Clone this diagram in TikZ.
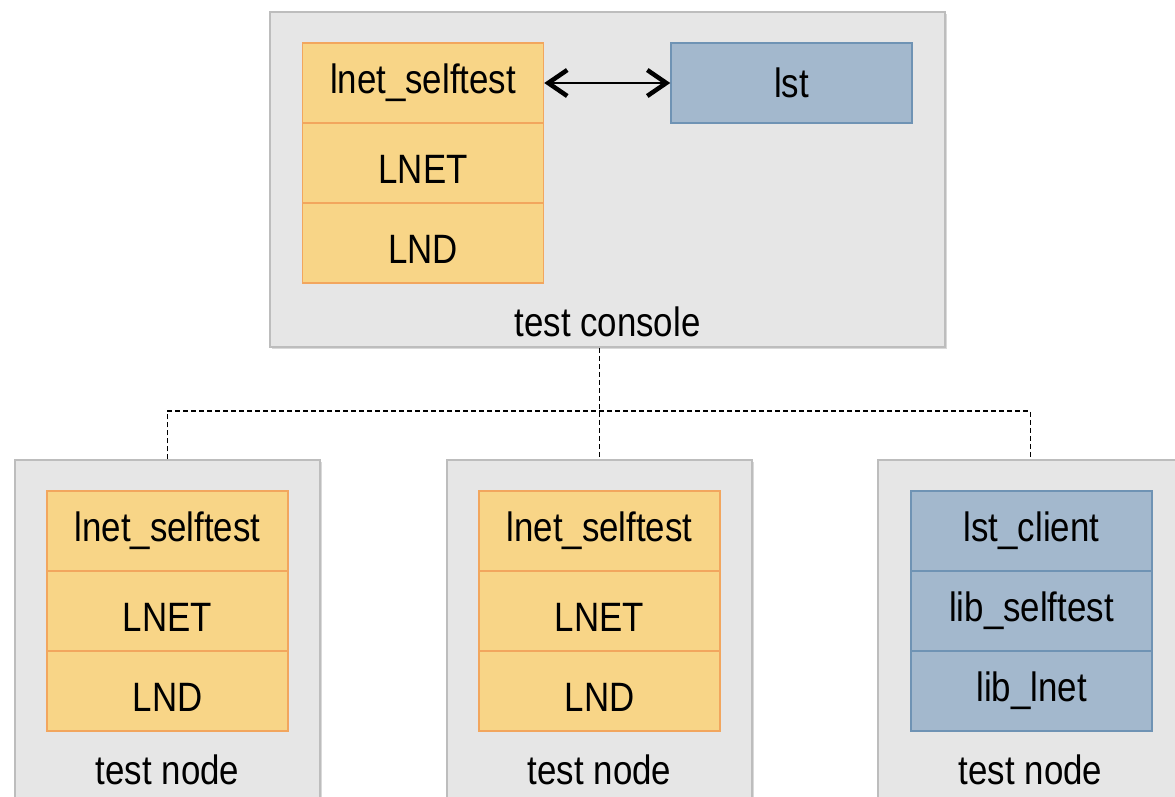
\documentclass[tikz,border=0pt]{standalone}
\usepackage{fontspec}
\setmainfont{Liberation Sans}
\usetikzlibrary{arrows.meta,shadows}

\definecolor{boxgray}{HTML}{E6E6E6}
\definecolor{boxline}{HTML}{BDBDBD}
\definecolor{kernfill}{HTML}{F8D587}
\definecolor{kernline}{HTML}{F2A65E}
\definecolor{userfill}{HTML}{A3B8CD}
\definecolor{userline}{HTML}{6F93B4}

\newcommand{\nar}[1]{\scalebox{0.85}[1]{#1}}

\tikzset{
  hostbox/.style={draw=boxline, line width=1.5pt, fill=boxgray, rectangle, inner sep=0pt,
    drop shadow={shadow xshift=2pt, shadow yshift=-2pt, opacity=0.3}},
  kernlayer/.style={draw=kernline, line width=1.5pt, fill=kernfill, rectangle,
    minimum width=241pt, minimum height=80pt, inner sep=0pt},
  userlayer/.style={draw=userline, line width=1.5pt, fill=userfill, rectangle,
    minimum width=241pt, minimum height=80pt, inner sep=0pt},
  lowtext/.style={text height=41pt, text depth=0pt},
  bus line/.style={draw=black, line width=1.5pt, dash pattern=on 5pt off 3pt}
}

\begin{document}
\begin{tikzpicture}[x=1pt, y=-1pt, font=\fontsize{41}{49}\selectfont]
        \clip (0,0) rectangle (1175,796);

        % Test console
        \node[hostbox, minimum width=675pt, minimum height=335pt] (console) at (607.5,179.5) {};
        \node[kernlayer] (cself) at (423,83) {\nar{lnet\_selftest}};
        \node[kernlayer, lowtext] (clnet) at (423,163) {\nar{LNET}};
        \node[kernlayer, lowtext] (clnd) at (423,243) {\nar{LND}};
        \node[userlayer] (lst) at (791.5,83) {\nar{lst}};
        \node (clabel) at (607.5,322) {\nar{test console}};

        % Test nodes
        \node[hostbox, minimum width=305pt, minimum height=340pt] (hosta) at (167.5,630) {};
        \node[hostbox, minimum width=305pt, minimum height=340pt] (hostb) at (599.5,630) {};
        \node[hostbox, minimum width=305pt, minimum height=340pt] (hostc) at (1030.5,630) {};

        % Layers
        \node[kernlayer] (aself) at (167.5,531) {\nar{lnet\_selftest}};
        \node[kernlayer, lowtext] (alnet) at (167.5,611) {\nar{LNET}};
        \node[kernlayer, lowtext] (alnd) at (167.5,691) {\nar{LND}};
        \node[kernlayer] (bself) at (599.5,531) {\nar{lnet\_selftest}};
        \node[kernlayer, lowtext] (blnet) at (599.5,611) {\nar{LNET}};
        \node[kernlayer, lowtext] (blnd) at (599.5,691) {\nar{LND}};
        \node[userlayer] (cclient) at (1031.5,531) {\nar{lst\_client}};
        \node[userlayer] (clib) at (1031.5,611) {\nar{lib\_selftest}};
        \node[userlayer] (cllnet) at (1031.5,691) {\nar{lib\_lnet}};

        % Labels
        \node (alabel) at (167.5,770) {\nar{test node}};
        \node (blabel) at (599.5,770) {\nar{test node}};
        \node (cnlabel) at (1030.5,770) {\nar{test node}};

        % Links
        \draw[{Straight Barb[length=19pt,width=26pt,line width=4.5pt]}-{Straight Barb[length=19pt,width=26pt,line width=4.5pt]}, line width=2pt]
          (cself) -- (lst);
        \coordinate (bus) at (600,411);
        \draw[bus line] (hosta.north) |- (bus) -| (hostc.north);
        \draw[bus line] (console.south -| hostb.north) -- (hostb.north);
    \end{tikzpicture}
\end{document}
